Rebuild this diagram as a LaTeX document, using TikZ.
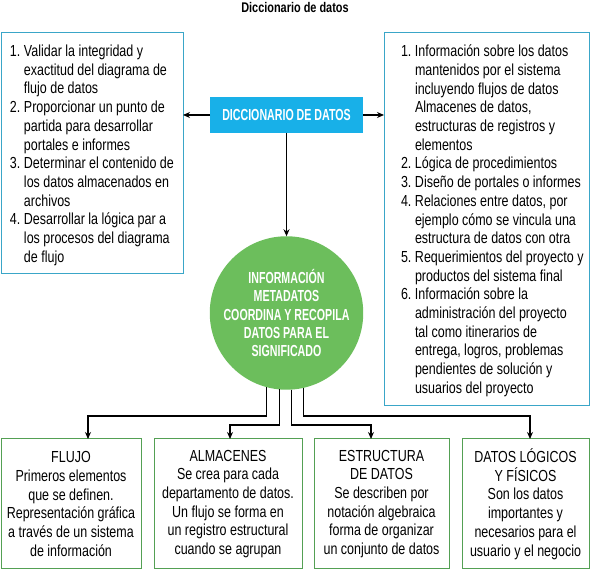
\documentclass[tikz,border=0pt]{standalone}
\usepackage{fontspec}
\setmainfont[FakeStretch=0.78]{Liberation Sans}
\newfontfamily\capsfont[FakeStretch=0.665]{Liberation Sans}
\usetikzlibrary{arrows.meta}
\definecolor{listcyan}{RGB}{58,166,200}
\definecolor{dictcyan}{RGB}{24,176,232}
\definecolor{metagreen}{RGB}{108,190,92}
\definecolor{boxgreen}{RGB}{84,160,84}
\newcommand{\numitem}[2]{\noindent\hangindent=14pt\hangafter=1\makebox[14pt][l]{#1.}#2\par}

\begin{document}
\begin{tikzpicture}[x=1pt,y=1pt,
  every node/.style={font=\fontsize{16}{18.7}\selectfont, outer sep=0pt},
  listbox/.style={draw=listcyan, line width=1pt, anchor=north west, inner xsep=0pt, inner ysep=12pt},
  dictbox/.style={fill=dictcyan, text=white, minimum width=153pt, minimum height=36pt, inner sep=0pt,
    font=\capsfont\bfseries\fontsize{16}{18.7}\selectfont},
  metacircle/.style={circle, fill=metagreen, text=white, minimum size=142pt, inner sep=0pt, align=center,
    font=\capsfont\bfseries\fontsize{16}{18.4}\selectfont},
  sortbox/.style={draw=boxgreen, line width=1pt, minimum height=130pt, inner sep=0pt, anchor=south, align=center},
  link/.style={draw, line width=1.1pt, -{Stealth[length=7pt,width=6pt]}}]
\useasboundingbox (0,0) rectangle (590,570);
\node[font=\fontsize{14}{16}\selectfont\bfseries] (titulo) at (295,562) {Diccionario de datos};

\node[listbox] (usos) at (1,537) {\hspace*{9pt}\parbox[t][217pt][t]{170pt}{\raggedright
  \numitem{1}{Validar la integridad y\newline exactitud del diagrama de\newline flujo de datos}
  \numitem{2}{Proporcionar un punto de\newline partida para desarrollar\newline portales e informes}
  \numitem{3}{Determinar el contenido de\newline los datos almacenados en\newline archivos}
  \numitem{4}{Desarrollar la lógica par a\newline los procesos del diagrama\newline de flujo}}\hspace*{3pt}};

\node[listbox] (info) at (384,537) {\hspace*{17pt}\parbox[t][349pt][t]{187pt}{\raggedright
  \numitem{1}{Información sobre los datos\newline mantenidos por el sistema\newline incluyendo flujos de datos\newline Almacenes de datos,\newline estructuras de registros y\newline elementos}
  \numitem{2}{Lógica de procedimientos}
  \numitem{3}{Diseño de portales o informes}
  \numitem{4}{Relaciones entre datos, por\newline ejemplo cómo se vincula una\newline estructura de datos con otra}
  \numitem{5}{Requerimientos del proyecto y\newline productos del sistema final}
  \numitem{6}{Información sobre la\newline administración del proyecto\newline tal como itinerarios de\newline entrega, logros, problemas\newline pendientes de solución y\newline usuarios del proyecto}}\hspace*{1pt}};

\node[dictbox] (dicc) at (286.5,455) {DICCIONARIO DE DATOS};
\node[metacircle] (meta) at (286.5,257) {INFORMACIÓN\\METADATOS\\COORDINA Y RECOPILA\\DATOS PARA EL\\SIGNIFICADO};

\node[sortbox, minimum width=140pt] (flujo) at (71,1) {FLUJO\\Primeros elementos\\que se definen.\\Representación gráfica\\a través de un sistema\\de información};
\node[sortbox, minimum width=148pt] (almacen) at (228,1) {ALMACENES\\Se crea para cada\\departamento de datos.\\Un flujo se forma en\\un registro estructural\\cuando se agrupan};
\node[sortbox, minimum width=135pt] (estruc) at (381.5,1) {ESTRUCTURA\\DE DATOS\\Se describen por\\notación algebraica\\forma de organizar\\un conjunto de datos};
\node[sortbox, minimum width=127pt] (fisicos) at (525.5,1) {DATOS LÓGICOS\\Y FÍSICOS\\Son los datos\\importantes y\\necesarios para el\\usuario y el negocio};

\draw[link] (dicc.west) -- (dicc.west -| usos.east);
\draw[link] (dicc.east) -- (dicc.east -| info.west);
\draw[link] (dicc.south) -- (meta.north);
\draw[link] (meta.255) -- (meta.255 |- 0,154) -| ([xshift=17pt]flujo.north);
\draw[link] (meta.265) -- (meta.265 |- 0,145) -| ([xshift=2pt]almacen.north);
\draw[link] (meta.274) -- (meta.274 |- 0,145) -| ([xshift=-10.5pt]estruc.north);
\draw[link] (meta.283) -- (meta.283 |- 0,154) -| ([xshift=4.5pt]fisicos.north);
\end{tikzpicture}
\end{document}
